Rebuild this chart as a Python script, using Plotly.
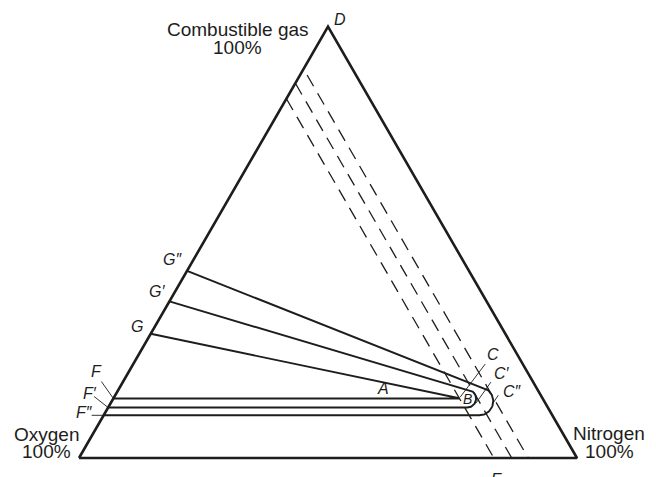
import math
import plotly.graph_objects as go

# compositions (fractions; oxygen = 1 - gas - nitrogen)
corner_gas = [0.0, 0.0, 1.0, 0.0]      # Oxygen, Nitrogen, Combustible gas, back to Oxygen
corner_n2 = [0.0, 1.0, 0.0, 0.0]

marks = ["", "′", "″"]
g_gas = [0.288, 0.363, 0.434]          # G, G', G'' on the oxygen / gas side
f_gas = [0.138, 0.117, 0.099]          # F, F', F'' (lines of constant gas)
c_o2 = [0.167, 0.131, 0.098]           # dashed lines of constant oxygen through C, C', C''
c_gas = [0.139, 0.148, 0.148]          # gas fraction where each envelope touches its dashed line
dash_top_gas = [0.833, 0.869, 0.888]   # upper end of each dashed line

S3 = math.sqrt(3) / 2
W, H = 656, 477
PX = 498.0  # pixels per unit side
INK = "#1d1d1b"
FONT = "Liberation Sans, Arial, sans-serif"


def xy(gas, n2):
    return n2 + gas / 2, gas * S3


def envelope(i):
    gx, gy = xy(g_gas[i], 0)
    fx, fy = xy(f_gas[i], 0)
    tx, ty = xy(c_gas[i], 1 - c_gas[i] - c_o2[i])
    r = (ty - fy) / 1.5
    cx, cy = tx - r * S3, ty - r / 2
    vx, vy = cx - gx, cy - gy
    d = math.hypot(vx, vy)
    phi = math.atan2(vy, vx) + math.asin(r / d)
    t1 = phi + math.pi / 2
    xs, ys = [gx], [gy]
    for k in range(41):
        a = t1 + (-math.pi / 2 - t1) * k / 40
        xs.append(cx + r * math.cos(a))
        ys.append(cy + r * math.sin(a))
    xs.append(fx)
    ys.append(fy)
    return xs, ys, (tx, ty), (fx, fy)


fig = go.Figure()

# triangle
tx_, ty_ = zip(*[xy(g, n) for g, n in zip(corner_gas, corner_n2)])
fig.add_trace(go.Scatter(x=tx_, y=ty_, mode="lines",
                         line=dict(color=INK, width=2.6)))

# dashed lines of constant oxygen
for i in range(3):
    x0, y0 = xy(dash_top_gas[i], 1 - dash_top_gas[i] - c_o2[i])
    x1, y1 = xy(0, 1 - c_o2[i])
    fig.add_trace(go.Scatter(x=[x0, x1], y=[y0, y1], mode="lines",
                             line=dict(color=INK, width=1.3, dash="13px,8px")))

c_pts, f_pts = [], []
for i in range(3):
    xs, ys, tp, fp = envelope(i)
    c_pts.append(tp)
    f_pts.append(fp)
    fig.add_trace(go.Scatter(x=xs, y=ys, mode="lines",
                             line=dict(color=INK, width=1.9)))


def leader(p, a, b):
    fig.add_trace(go.Scatter(
        x=[p[0] + a[0] / PX, p[0] + b[0] / PX],
        y=[p[1] - a[1] / PX, p[1] - b[1] / PX],
        mode="lines", line=dict(color=INK, width=0.9)))


f_lead = [(-12, -17), (-14, -11), (-12, 0)]
for p, a in zip(f_pts, f_lead):
    leader(p, a, (0, 0))
c_lead = [((26, -34), (1, -1)), ((16, -12), (1, 9)), ((7, 1), (1, 10))]
for p, (a, b) in zip(c_pts, c_lead):
    leader(p, a, b)

ann = []


def label(text, px, py, size=16, italic=True):
    ann.append(dict(text=f"<i>{text}</i>" if italic else text,
                    x=px / W, y=1 - py / H, xref="paper", yref="paper",
                    showarrow=False, xanchor="center", yanchor="middle",
                    borderpad=0,
                    font=dict(family=FONT, size=size, color=INK)))


label("Combustible gas", 237.5, 30, 19, False)
label("100%", 237.5, 48, 19, False)
label("Oxygen", 46.5, 434, 19, False)
label("100%", 46.5, 451, 19, False)
label("Nitrogen", 609, 433, 19, False)
label("100%", 609, 451, 19, False)
label("D", 340, 19)
label("G″", 172, 259)
label("G′", 157, 291)
label("G", 137, 326)
label("F", 96, 371)
label("F′", 90, 393)
label("F″", 84, 412)
label("C", 493, 354)
label("C′", 502, 373)
label("C″", 512, 391)
label("A", 383, 388)
label("B", 467, 399, 14)
label("E", 496, 479)

fig.update_layout(
    width=W, height=H,
    margin=dict(l=0, r=0, t=0, b=0),
    paper_bgcolor="white", plot_bgcolor="white",
    showlegend=False,
    xaxis=dict(range=[-79 / PX, (W - 79) / PX], visible=False, fixedrange=True),
    yaxis=dict(range=[(458 - H) / PX, 458 / PX], visible=False, fixedrange=True),
    annotations=ann,
)

fig.write_html("out.html", config={"displayModeBar": False},
               post_script="document.body.style.margin='0';")
